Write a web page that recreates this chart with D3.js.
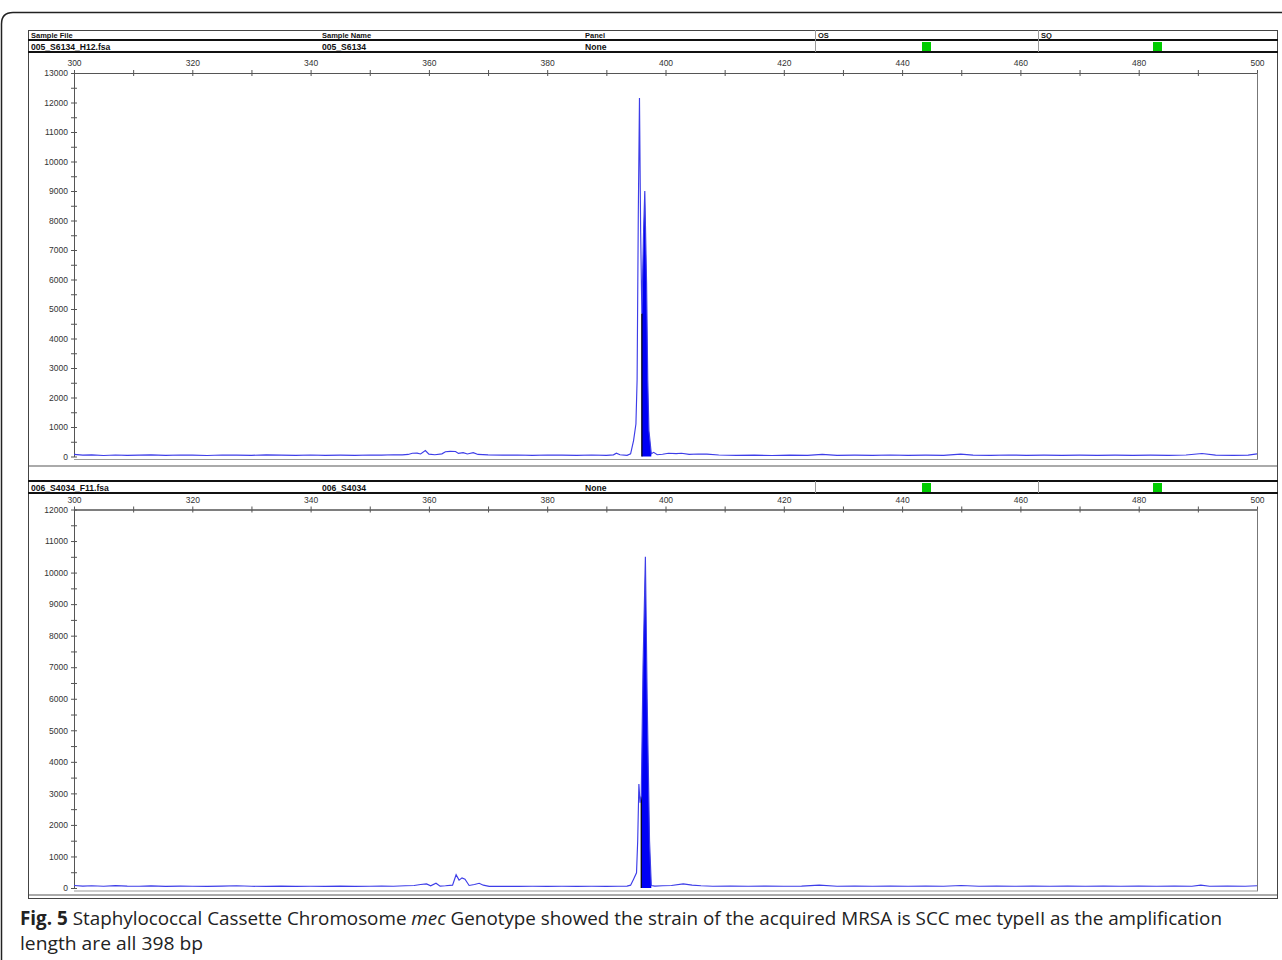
<!DOCTYPE html>
<html>
<head>
<meta charset="utf-8">
<script src="https://cdn.jsdelivr.net/npm/d3@7"></script>
<style>
  body { margin: 0; background: #fff; }
  svg { display: block; }
</style>
</head>
<body>
<div id="chart"></div>
<script>
(function () {
  'use strict';

  // header table
  var headerCols = ["Sample File", "Sample Name", "Panel", "OS", "SQ"];
  var sampleFiles = ["005_S6134_H12.fsa", "006_S4034_F11.fsa"];
  var sampleNames = ["005_S6134", "006_S4034"];
  var panelNames = ["None", "None"];

  // axis ticks (size in bp, RFU)
  var sizeLabels = [300, 320, 340, 360, 380, 400, 420, 440, 460, 480, 500];
  var sizeMinor = [310, 330, 350, 370, 390, 410, 430, 450, 470, 490];
  var rfuLabels1 = [0, 1000, 2000, 3000, 4000, 5000, 6000, 7000, 8000, 9000, 10000, 11000, 12000, 13000];
  var rfuLabels2 = [0, 1000, 2000, 3000, 4000, 5000, 6000, 7000, 8000, 9000, 10000, 11000, 12000];
  var rfuMinor1 = [500, 1500, 2500, 3500, 4500, 5500, 6500, 7500, 8500, 9500, 10500, 11500, 12500];
  var rfuMinor2 = [500, 1500, 2500, 3500, 4500, 5500, 6500, 7500, 8500, 9500, 10500, 11500];

  // electropherogram traces [size bp, RFU]
  var trace005 = [[300,70],[301.5,45],[303,55],[305,35],[307,50],[309,40],[311,45],[313,55],[315.5,40],[318,50],
    [320,45],[322.5,35],[325,50],[327.5,45],[330,40],[332.5,55],[335,45],[337.5,40],[340,50],[342.5,40],
    [345,45],[347.5,40],[350,50],[352,45],[354,60],[355.5,55],[356.5,70],[357.2,110],[358.0,115],[358.6,85],
    [359.4,200],[360.0,80],[361.0,60],[362.2,90],[362.8,160],[363.6,175],[364.5,170],[365.0,105],[365.8,130],[366.5,85],
    [367.5,130],[368.3,70],[370,55],[372.5,45],[375,50],[377.5,40],[380,50],[382.5,45],[385,40],[387.5,50],
    [390,40],[391.2,55],[391.7,110],[392.3,60],[393.5,40],[394.1,90],[394.6,540],[395.0,1100],[395.2,2600],[395.4,8200],
    [395.6,12150],[395.8,7600],[396.0,4850],[396.3,7700],[396.5,9000],[396.8,5900],[397.0,2600],[397.2,880],[397.6,90],[398.0,140],
    [398.6,60],[399.5,75],[400.5,110],[401.8,100],[402.7,110],[404,70],[405.5,85],[407,80],[409,50],[412,40],
    [415,45],[418,35],[421,45],[424,40],[426.5,70],[429,40],[432,45],[435,40],[438,50],[441,40],
    [444,45],[447,40],[449.9,80],[452,45],[455,40],[458,50],[461,40],[464,45],[467,40],[470,45],
    [473,40],[476,45],[479,40],[482,45],[485,40],[488,50],[490.7,100],[493,45],[496,40],[498.5,45],[500,90]];

  var trace006 = [[300,80],[301.5,60],[303,70],[305,55],[307,75],[309,60],[311,55],[313,65],[315.5,50],[318,60],
    [320,55],[322.5,50],[325,60],[327.5,70],[330,55],[332.5,50],[335,60],[337.5,50],[340,55],[342.5,50],
    [345,60],[347.5,50],[350,55],[352,60],[354,55],[356,70],[357.5,80],[358.6,110],[359.6,130],[360.3,70],
    [361.2,150],[361.9,60],[362.8,70],[364.0,90],[364.6,420],[365.1,250],[365.6,320],[366.1,280],[366.8,80],[367.7,110],
    [368.5,150],[369.2,90],[370.2,50],[372.5,55],[375,50],[377.5,55],[380,50],[382.5,55],[385,50],[387.5,55],
    [390,50],[392,55],[393.5,60],[394.1,90],[394.6,280],[395.1,480],[395.3,1500],[395.5,3300],[395.7,2700],[395.9,2900],
    [396.2,7000],[396.6,10500],[396.9,6000],[397.3,1500],[397.6,80],[398.2,60],[399.5,70],[401,80],[403,130],[404.5,90],
    [406,70],[408,55],[411,60],[414,55],[417,60],[420,55],[423,60],[426,90],[429,55],[432,60],
    [435,55],[438,60],[441,55],[444,60],[447,55],[450,80],[453,55],[456,60],[459,55],[462,60],
    [465,55],[468,60],[471,55],[474,60],[477,55],[480,60],[483,55],[486,60],[489,55],[490.5,90],
    [492,55],[495,60],[498,55],[500,70]];

  // sized peak (filled) range in bp
  var peak005 = [396.0, 397.6];
  var peak006 = [395.9, 397.6];

  var W = 1282, H = 960;
  var svg = d3.select("#chart").append("svg")
    .attr("width", W)
    .attr("height", H);

  svg.append("rect").attr("width", W).attr("height", H).attr("fill", "#fff");

  // outer rounded frame (open to the right/bottom)
  svg.append("path")
    .attr("d", "M1.5,962 L1.5,24 Q1.5,12.5 13,12.5 L1284,12.5")
    .attr("fill", "none")
    .attr("stroke", "#222")
    .attr("stroke-width", 1.5);

  // inner figure frame
  svg.append("rect")
    .attr("x", 28.5).attr("y", 30.5)
    .attr("width", 1249).attr("height", 868)
    .attr("fill", "none")
    .attr("stroke", "#444")
    .attr("stroke-width", 1);

  var colX = [31, 322, 585, 818, 1041];
  var divX = [815.5, 1038.5];
  var greenX = [922, 1153];
  var font = "'Liberation Sans Narrow', 'Arial Narrow', 'Liberation Sans', sans-serif";

  function header(top, withTitles, i) {
    var g = svg.append("g");
    var rowTop = top;
    if (withTitles) {
      headerCols.forEach(function (t, k) {
        g.append("text").attr("x", colX[k]).attr("y", top + 7.5)
          .attr("font-family", font).attr("font-weight", "bold")
          .attr("font-size", 7.5).attr("fill", "#111").text(t);
      });
      g.append("line").attr("x1", 28).attr("x2", 1278).attr("y1", top + 10).attr("y2", top + 10)
        .attr("stroke", "#111").attr("stroke-width", 2);
      rowTop = top + 10;
    } else {
      g.append("line").attr("x1", 28).attr("x2", 1278).attr("y1", top).attr("y2", top)
        .attr("stroke", "#111").attr("stroke-width", 2);
    }
    var rowBot = rowTop + 12;
    g.append("line").attr("x1", 28).attr("x2", 1278).attr("y1", rowBot).attr("y2", rowBot)
      .attr("stroke", "#111").attr("stroke-width", 2);
    divX.forEach(function (dx) {
      g.append("line").attr("x1", dx).attr("x2", dx)
        .attr("y1", withTitles ? top : rowTop).attr("y2", rowBot)
        .attr("stroke", "#999").attr("stroke-width", 1);
    });
    [sampleFiles[i], sampleNames[i], panelNames[i]].forEach(function (t, k) {
      g.append("text").attr("x", colX[k]).attr("y", rowTop + 9.5)
        .attr("font-family", font).attr("font-weight", "bold")
        .attr("font-size", 8.6).attr("fill", "#111").text(t);
    });
    greenX.forEach(function (gx) {
      g.append("rect").attr("x", gx).attr("y", rowTop + 2)
        .attr("width", 9).attr("height", 9).attr("fill", "#00cc00");
    });
  }

  function panel(p) {
    var x = d3.scaleLinear().domain([300, 500]).range([74, 1257]);
    var y = d3.scaleLinear().domain([0, p.yMax]).range([p.y0, p.yTop]);
    var g = svg.append("g");

    // x axis along the top, ticks crossing the line
    var xTop = g.append("g").attr("transform", "translate(0," + p.yTop + ")")
      .call(d3.axisTop(x).tickValues(sizeLabels.concat(sizeMinor)).tickSize(3).tickSizeOuter(0)
        .tickFormat(function (d) { return sizeLabels.indexOf(d) >= 0 ? d : ""; }));
    g.append("g").attr("transform", "translate(0," + p.yTop + ")")
      .call(d3.axisBottom(x).tickValues(sizeLabels.concat(sizeMinor)).tickSize(3).tickSizeOuter(0).tickFormat(""));

    // y axis, ticks crossing the line
    g.append("g").attr("transform", "translate(74,0)")
      .call(d3.axisLeft(y).tickValues(p.labels.concat(p.minor)).tickSize(3).tickSizeOuter(0)
        .tickFormat(function (d) { return p.labels.indexOf(d) >= 0 ? d : ""; }));
    g.append("g").attr("transform", "translate(74,0)")
      .call(d3.axisRight(y).tickValues(p.labels.concat(p.minor)).tickSize(3).tickSizeOuter(0).tickFormat(""));

    g.selectAll(".domain").attr("stroke", "#555");
    g.selectAll(".tick line").attr("stroke", "#555");
    g.selectAll(".tick text").attr("font-family", "'Liberation Sans', Arial, sans-serif")
      .attr("font-size", 8.5).attr("fill", "#333");
    xTop.selectAll(".tick text").attr("dy", "-1px");

    // right edge and bottom of plot
    g.append("line").attr("x1", x(500) + 0.5).attr("x2", x(500) + 0.5)
      .attr("y1", p.yTop).attr("y2", p.y0 + 3)
      .attr("stroke", "#777");
    g.append("line").attr("x1", 74).attr("x2", x(500) + 1)
      .attr("y1", p.y0 + 3).attr("y2", p.y0 + 3)
      .attr("stroke", "#999").attr("stroke-width", 1);
    g.append("line").attr("x1", 29).attr("x2", 1277)
      .attr("y1", p.rule).attr("y2", p.rule)
      .attr("stroke", "#aaa").attr("stroke-width", 2);

    // filled sized peak
    var inPeak = p.trace.filter(function (d) { return d[0] >= p.peak[0] && d[0] <= p.peak[1]; });
    var area = d3.area()
      .x(function (d) { return x(d[0]); })
      .y0(y(0))
      .y1(function (d) { return y(d[1]); });
    g.append("path").datum(inPeak)
      .attr("d", area)
      .attr("fill", "#0000f5");
    g.append("line")
      .attr("x1", x(inPeak[0][0])).attr("x2", x(inPeak[0][0]))
      .attr("y1", y(inPeak[0][1])).attr("y2", y(0))
      .attr("stroke", "#000").attr("stroke-width", 1.2);

    // trace
    var line = d3.line()
      .x(function (d) { return x(d[0]); })
      .y(function (d) { return y(d[1]); });
    g.append("path").datum(p.trace)
      .attr("d", line)
      .attr("fill", "none")
      .attr("stroke", "#3d3de8")
      .attr("stroke-width", 1.15);
  }

  header(30, true, 0);
  panel({ yMax: 13000, yTop: 73, y0: 456.5, labels: rfuLabels1, minor: rfuMinor1,
    trace: trace005, peak: peak005, rule: 466 });

  header(481, false, 1);
  panel({ yMax: 12000, yTop: 509.5, y0: 888, labels: rfuLabels2, minor: rfuMinor2,
    trace: trace006, peak: peak006, rule: 895 });

  // caption
  var cap = svg.append("text")
    .attr("x", 20).attr("y", 925)
    .attr("font-family", "'Open Sans', 'Noto Sans', sans-serif")
    .attr("font-size", 19)
    .attr("fill", "#222")
    .attr("textLength", 1202)
    .attr("lengthAdjust", "spacingAndGlyphs");
  cap.append("tspan").attr("font-weight", "bold").text("Fig. 5");
  cap.append("tspan").text(" Staphylococcal Cassette Chromosome ");
  cap.append("tspan").attr("font-style", "italic").text("mec");
  cap.append("tspan").text(" Genotype showed the strain of the acquired MRSA is SCC mec typeII as the amplification");

  svg.append("text")
    .attr("x", 20).attr("y", 950)
    .attr("font-family", "'Open Sans', 'Noto Sans', sans-serif")
    .attr("font-size", 19)
    .attr("fill", "#222")
    .attr("textLength", 183)
    .attr("lengthAdjust", "spacingAndGlyphs")
    .text("length are all 398 bp");
})();
</script>
</body>
</html>
